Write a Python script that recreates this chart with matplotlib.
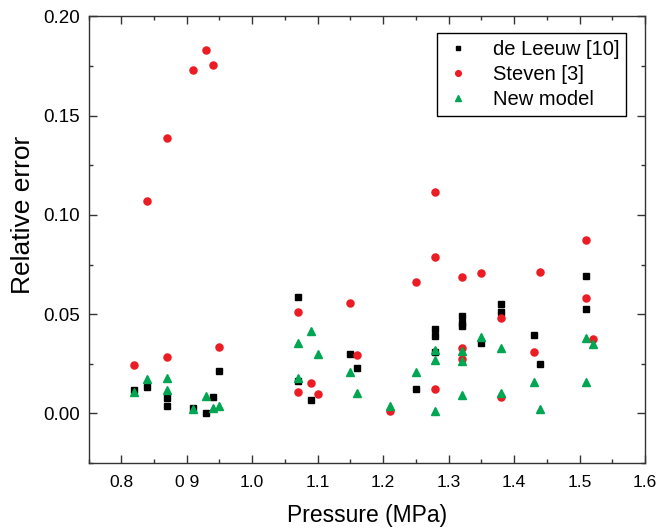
import matplotlib
matplotlib.use("Agg")
import matplotlib.pyplot as plt
from matplotlib.ticker import MultipleLocator, FixedLocator

plt.rcParams['font.family'] = ['Liberation Sans', 'DejaVu Sans']

# -------------------------------
# Data
# -------------------------------
leeuw_p = [0.82, 0.84, 0.87, 0.87, 0.91, 0.93, 0.94, 0.95,
           1.07, 1.07, 1.09, 1.15, 1.16, 1.25,
           1.28, 1.28, 1.28, 1.32, 1.32, 1.32, 1.35,
           1.38, 1.38, 1.43, 1.44, 1.51, 1.51]
leeuw_err = [0.0117, 0.0133, 0.0076, 0.0039, 0.0025, 0.0003, 0.0084, 0.0213,
             0.0587, 0.0163, 0.0067, 0.0298, 0.0230, 0.0124,
             0.0426, 0.0389, 0.0310, 0.0489, 0.0454, 0.0439, 0.0353,
             0.0549, 0.0509, 0.0393, 0.0248, 0.0692, 0.0528]

steven_p = [0.82, 0.84, 0.87, 0.87, 0.91, 0.93, 0.94, 0.95,
            1.07, 1.07, 1.09, 1.10, 1.15, 1.16, 1.21, 1.25,
            1.28, 1.28, 1.28, 1.32, 1.32, 1.32, 1.35,
            1.38, 1.38, 1.43, 1.44, 1.51, 1.51, 1.52]
steven_err = [0.0243, 0.1070, 0.1390, 0.0285, 0.1730, 0.1830, 0.1755, 0.0334,
              0.0510, 0.0107, 0.0152, 0.0096, 0.0557, 0.0294, 0.0013, 0.0663,
              0.1114, 0.0789, 0.0124, 0.0688, 0.0327, 0.0273, 0.0705,
              0.0482, 0.0083, 0.0310, 0.0710, 0.0874, 0.0579, 0.0373]

new_p = [0.82, 0.84, 0.87, 0.87, 0.91, 0.93, 0.94, 0.95,
         1.07, 1.07, 1.09, 1.10, 1.15, 1.16, 1.21, 1.25,
         1.28, 1.28, 1.28, 1.32, 1.32, 1.32, 1.35,
         1.38, 1.38, 1.43, 1.44, 1.51, 1.51, 1.52]
new_err = [0.0108, 0.0175, 0.0178, 0.0116, 0.0023, 0.0087, 0.0027, 0.0037,
           0.0353, 0.0180, 0.0417, 0.0298, 0.0209, 0.0104, 0.0037, 0.0211,
           0.0320, 0.0268, 0.0013, 0.0312, 0.0266, 0.0094, 0.0385,
           0.0332, 0.0102, 0.0156, 0.0023, 0.0382, 0.0156, 0.0352]

x_ticks = [0.8, 0.9, 1.0, 1.1, 1.2, 1.3, 1.4, 1.5, 1.6]
x_tick_labels = ["0.8", "0 9", "1.0", "1.1", "1.2", "1.3", "1.4", "1.5", "1.6"]
y_ticks = [0.00, 0.05, 0.10, 0.15, 0.20]
y_tick_labels = ["0.00", "0.05", "0.10", "0.15", "0.20"]

RED = "#EC1C24"
GREEN = "#00A651"

# -------------------------------
# Plot
# -------------------------------
fig = plt.figure(figsize=(6.72, 5.32), dpi=100)
ax = fig.add_axes([0.1317, 0.1297, 0.8281, 0.8393])

ax.plot(leeuw_p, leeuw_err, linestyle="none", marker="s", ms=3.8,
        color="black", mec="black", label="de Leeuw [10]")
ax.plot(steven_p, steven_err, linestyle="none", marker="o", ms=5.1,
        color=RED, mec=RED, label="Steven [3]")
ax.plot(new_p, new_err, linestyle="none", marker="^", ms=5.5,
        color=GREEN, mec=GREEN, label="New model")

ax.set_xlim(0.75, 1.6)
ax.set_ylim(-0.025, 0.20)

ax.xaxis.set_major_locator(FixedLocator(x_ticks))
ax.set_xticklabels(x_tick_labels)
ax.xaxis.set_minor_locator(MultipleLocator(0.05))
ax.yaxis.set_major_locator(FixedLocator(y_ticks))
ax.set_yticklabels(y_tick_labels)
ax.yaxis.set_minor_locator(MultipleLocator(0.025))

ax.tick_params(which="both", direction="in", top=True, right=True,
               width=1.0, color="#333333")
ax.tick_params(which="major", length=6)
ax.tick_params(which="minor", length=3)
ax.tick_params(axis="x", which="major", pad=9, labelsize=12.5)
ax.tick_params(axis="y", which="major", pad=6, labelsize=13.5)

for sp in ax.spines.values():
    sp.set_linewidth(1.0)
    sp.set_color("#333333")

ax.set_xlabel("Pressure (MPa)", fontsize=16.5, labelpad=10)
ax.set_ylabel("Relative error", fontsize=19)
ax.yaxis.set_label_coords(-0.096, 0.556)

leg = ax.legend(loc="upper right", bbox_to_anchor=(0.966, 0.964),
                borderaxespad=0, fontsize=14.5, fancybox=False,
                edgecolor="black", framealpha=1, markerscale=0.8,
                handlelength=1.4, handletextpad=1.0, borderpad=0.35,
                labelspacing=0.3)
leg.get_frame().set_linewidth(1.0)

fig.savefig("out.png", dpi=100)
